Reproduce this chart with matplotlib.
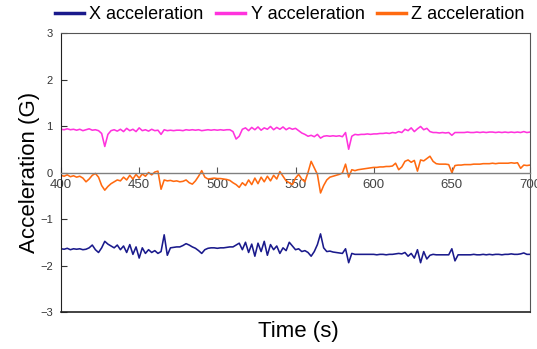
import numpy as np
import matplotlib
matplotlib.use("Agg")
import matplotlib.pyplot as plt

plt.rcParams['font.family'] = ['Liberation Sans', 'DejaVu Sans']

# ── Données (pas de 2 s, de 400 à 700 s) ─────────────────────────────────────
temps = np.arange(400, 701, 2)

acc_y = [0.93, 0.92, 0.94, 0.92, 0.93, 0.91, 0.93, 0.90, 0.92, 0.94,
         0.91, 0.92, 0.90, 0.84, 0.56, 0.82, 0.90, 0.92, 0.89, 0.93,
         0.88, 0.95, 0.90, 0.93, 0.88, 0.96, 0.90, 0.92, 0.89, 0.93,
         0.90, 0.91, 0.82, 0.92, 0.90, 0.91, 0.90, 0.91, 0.91, 0.90,
         0.92, 0.91, 0.92, 0.91, 0.92, 0.90, 0.91, 0.92, 0.91, 0.92,
         0.91, 0.92, 0.91, 0.92, 0.92, 0.88, 0.72, 0.78, 0.93, 0.96,
         0.90, 0.97, 0.92, 0.98, 0.91, 0.96, 0.93, 0.99, 0.92, 0.97,
         0.93, 0.98, 0.92, 0.96, 0.93, 0.95, 0.90, 0.85, 0.82, 0.78,
         0.80, 0.77, 0.82, 0.74, 0.78, 0.79, 0.78, 0.79, 0.78, 0.79,
         0.77, 0.86, 0.50, 0.78, 0.82, 0.81, 0.82, 0.82, 0.83, 0.82,
         0.83, 0.83, 0.84, 0.84, 0.85, 0.84, 0.86, 0.85, 0.88, 0.86,
         0.93, 0.90, 0.96, 0.88, 0.94, 0.99, 0.92, 0.95, 0.88, 0.86,
         0.86, 0.85, 0.86, 0.85, 0.86, 0.80, 0.86, 0.86, 0.86, 0.86,
         0.87, 0.86, 0.86, 0.87, 0.86, 0.87, 0.86, 0.87, 0.87, 0.86,
         0.87, 0.86, 0.87, 0.86, 0.87, 0.86, 0.87, 0.86, 0.88, 0.86,
         0.87]

acc_z = [-0.06, -0.08, -0.05, -0.09, -0.07, -0.10, -0.08, -0.12, -0.20, -0.14,
         -0.06, -0.02, -0.10, -0.28, -0.38, -0.30, -0.24, -0.20, -0.16, -0.18,
         -0.10, -0.16, -0.06, -0.14, -0.04, -0.12, -0.03, -0.08, 0.00, -0.05,
         0.01, 0.03, -0.36, -0.16, -0.18, -0.17, -0.19, -0.18, -0.20, -0.19,
         -0.16, -0.22, -0.25, -0.18, -0.08, 0.04, -0.10, -0.14, -0.13, -0.12,
         -0.13, -0.13, -0.14, -0.15, -0.17, -0.22, -0.26, -0.32, -0.22, -0.28,
         -0.16, -0.26, -0.12, -0.24, -0.10, -0.20, -0.08, -0.18, -0.06, -0.14,
         0.02, -0.08, -0.18, -0.22, -0.26, -0.12, -0.04, -0.14, -0.20, 0.00,
         0.24, 0.10, -0.04, -0.44, -0.28, -0.16, -0.10, -0.08, -0.06, -0.04,
         -0.01, 0.18, -0.10, 0.06, 0.04, 0.06, 0.07, 0.08, 0.09, 0.10,
         0.11, 0.11, 0.12, 0.12, 0.13, 0.13, 0.14, 0.20, 0.06, 0.12,
         0.24, 0.27, 0.22, 0.26, 0.03, 0.27, 0.25, 0.30, 0.35, 0.24,
         0.19, 0.18, 0.18, 0.18, 0.17, 0.00, 0.15, 0.16, 0.16, 0.17,
         0.17, 0.17, 0.18, 0.18, 0.18, 0.19, 0.19, 0.19, 0.20, 0.19,
         0.20, 0.20, 0.20, 0.20, 0.21, 0.20, 0.21, 0.09, 0.16, 0.15,
         0.16]

acc_x = [-1.64, -1.65, -1.63, -1.66, -1.64, -1.65, -1.64, -1.66, -1.65, -1.62,
         -1.56, -1.66, -1.72, -1.62, -1.48, -1.54, -1.58, -1.62, -1.56, -1.66,
         -1.58, -1.72, -1.55, -1.76, -1.60, -1.84, -1.62, -1.74, -1.66, -1.72,
         -1.68, -1.74, -1.70, -1.34, -1.78, -1.62, -1.61, -1.60, -1.60, -1.57,
         -1.53, -1.56, -1.60, -1.63, -1.68, -1.74, -1.66, -1.63, -1.62, -1.62,
         -1.63, -1.62, -1.62, -1.61, -1.60, -1.60, -1.56, -1.52, -1.66, -1.50,
         -1.72, -1.54, -1.80, -1.52, -1.70, -1.48, -1.78, -1.55, -1.66, -1.58,
         -1.74, -1.62, -1.68, -1.50, -1.58, -1.66, -1.64, -1.70, -1.68, -1.72,
         -1.80, -1.70, -1.55, -1.32, -1.62, -1.70, -1.69, -1.71, -1.72, -1.73,
         -1.74, -1.64, -1.94, -1.74, -1.76, -1.76, -1.76, -1.76, -1.76, -1.76,
         -1.76, -1.77, -1.76, -1.76, -1.77, -1.76, -1.76, -1.75, -1.74, -1.75,
         -1.72, -1.80, -1.74, -1.84, -1.66, -1.94, -1.70, -1.86, -1.78, -1.76,
         -1.77, -1.77, -1.77, -1.77, -1.77, -1.64, -1.90, -1.77, -1.77, -1.77,
         -1.77, -1.77, -1.76, -1.77, -1.77, -1.76, -1.77, -1.76, -1.77, -1.76,
         -1.76, -1.77, -1.76, -1.76, -1.75, -1.76, -1.76, -1.75, -1.73, -1.76,
         -1.76]

series = [("X acceleration", acc_x, "#1a1a8c"),
          ("Y acceleration", acc_y, "#ff33dd"),
          ("Z acceleration", acc_z, "#ff6a10")]

# ── Figure ────────────────────────────────────────────────────────────────────
fig = plt.figure(figsize=(5.37, 3.49), dpi=100)
ax = fig.add_axes([0.1136, 0.106, 0.8734, 0.7994])

for nom, valeurs, couleur in series:
    assert len(valeurs) == len(temps), nom
    ax.plot(temps, valeurs, color=couleur, lw=1.15, label=nom)

ax.set_xlim(400, 700)
ax.set_ylim(-3, 3)
ax.set_xticks(range(400, 701, 50))
ax.set_yticks(range(-3, 4))
ax.set_yticklabels(["\u22123", "\u22122", "\u22121", "0", "1", "2", "3"])

# axe des x sur la ligne zéro
ax.spines['bottom'].set_position(('data', 0))
ax.spines['bottom'].set_color('#808080')
ax.spines['bottom'].set_linewidth(1.0)
ax.axhline(-3, color='#222222', lw=1.2, clip_on=False, zorder=5)
ax.spines['left'].set_color('#222222')
ax.spines['top'].set_color('#555555')
ax.spines['right'].set_color('#555555')

ax.tick_params(axis='x', direction='in', length=4, labelsize=9.5,
               colors='#555555', labelcolor='#444444', pad=5)
ax.tick_params(axis='y', direction='in', length=4, labelsize=8,
               colors='#333333', pad=6)

ax.set_ylabel("Acceleration (G)", fontsize=16, labelpad=0)
fig.text(0.555, 0.05, "Time (s)", fontsize=16, ha='center', va='center')

fig.legend(loc='center', bbox_to_anchor=(0.54, 0.958), ncol=3, frameon=False,
           fontsize=13, handlelength=1.6, handletextpad=0.3, columnspacing=0.7,
           borderaxespad=0)
for ligne in fig.legends[0].get_lines():
    ligne.set_linewidth(2.5)

fig.savefig("out.png", dpi=100)
